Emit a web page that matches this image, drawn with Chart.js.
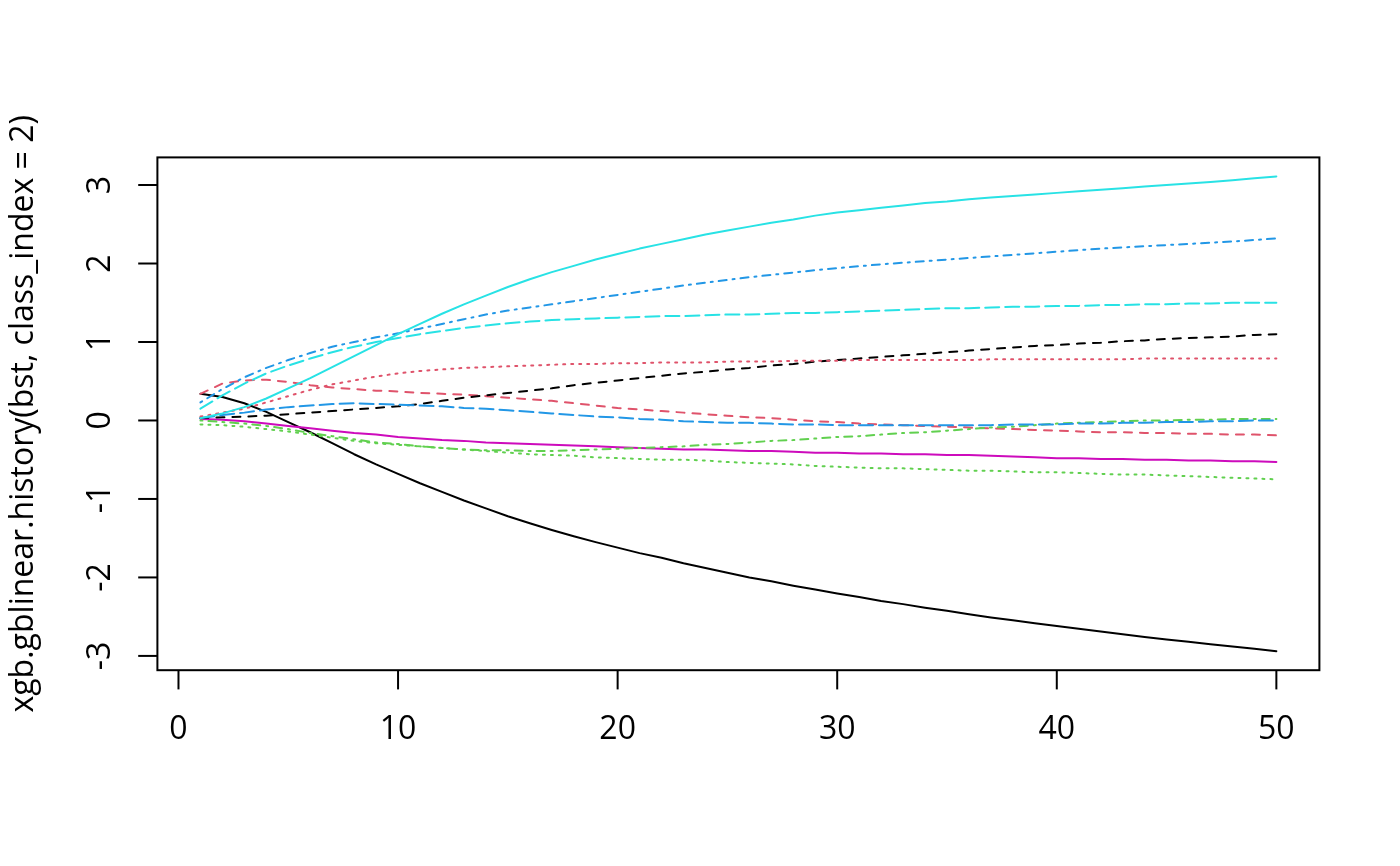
<!DOCTYPE html>
<html>
<head>
<meta charset="utf-8">
<script src="https://cdn.jsdelivr.net/npm/chart.js@4/dist/chart.umd.min.js"></script>
<style>
  html, body { margin: 0; padding: 0; background: #ffffff; }
  #wrap { width: 1400px; height: 866px; }
</style>
</head>
<body>
<div id="wrap"><canvas id="c" width="1400" height="866"></canvas></div>
<script>
// iterations 1..50
const iterations = Array.from({length: 50}, (_, i) => i + 1);

// x tick labels and y tick labels
const xTicks = [0, 10, 20, 30, 40, 50];
const yTicks = [-3, -2, -1, 0, 1, 2, 3];
const yTitle = "xgb.gblinear.history(bst, class_index = 2)";

// series values (matplot columns 1..11)
const s1 = [0.34,0.30,0.22,0.11,-0.02,-0.15,-0.29,-0.43,-0.56,-0.68,
            -0.80,-0.91,-1.02,-1.12,-1.22,-1.31,-1.395,-1.475,-1.55,-1.62,
            -1.69,-1.75,-1.82,-1.88,-1.94,-2.00,-2.05,-2.105,-2.155,-2.205,
            -2.25,-2.30,-2.34,-2.385,-2.425,-2.47,-2.51,-2.545,-2.585,-2.62,
            -2.655,-2.69,-2.725,-2.76,-2.79,-2.82,-2.85,-2.88,-2.91,-2.94];
const s2 = [0.34,0.47,0.51,0.52,0.49,0.45,0.42,0.40,0.38,0.37,
            0.35,0.34,0.33,0.31,0.29,0.27,0.25,0.22,0.19,0.16,
            0.14,0.12,0.10,0.08,0.06,0.04,0.03,0.01,-0.01,-0.02,
            -0.04,-0.05,-0.06,-0.07,-0.08,-0.09,-0.10,-0.11,-0.12,-0.13,
            -0.14,-0.15,-0.15,-0.16,-0.16,-0.17,-0.17,-0.18,-0.18,-0.19];
const s3 = [-0.05,-0.06,-0.08,-0.11,-0.14,-0.18,-0.22,-0.26,-0.29,-0.31,
            -0.33,-0.35,-0.37,-0.39,-0.41,-0.43,-0.44,-0.45,-0.47,-0.48,
            -0.49,-0.50,-0.50,-0.51,-0.53,-0.54,-0.55,-0.56,-0.58,-0.59,
            -0.60,-0.61,-0.61,-0.62,-0.63,-0.64,-0.64,-0.65,-0.66,-0.66,
            -0.67,-0.68,-0.69,-0.69,-0.70,-0.71,-0.72,-0.73,-0.74,-0.75];
const s4 = [0.23,0.40,0.55,0.67,0.77,0.86,0.94,1.00,1.06,1.11,
            1.17,1.23,1.29,1.35,1.40,1.44,1.48,1.52,1.56,1.60,
            1.64,1.68,1.72,1.755,1.79,1.825,1.855,1.885,1.915,1.94,
            1.965,1.99,2.01,2.03,2.05,2.07,2.09,2.11,2.13,2.15,
            2.17,2.19,2.205,2.22,2.235,2.25,2.265,2.28,2.30,2.32];
const s5 = [0.15,0.32,0.47,0.60,0.70,0.79,0.87,0.94,1.00,1.05,
            1.10,1.14,1.18,1.21,1.24,1.26,1.28,1.29,1.30,1.31,
            1.32,1.33,1.33,1.34,1.35,1.35,1.36,1.37,1.37,1.38,
            1.39,1.40,1.41,1.42,1.43,1.43,1.44,1.45,1.45,1.46,
            1.46,1.47,1.47,1.48,1.48,1.49,1.49,1.50,1.50,1.50];
const s6 = [0.02,0.01,-0.01,-0.04,-0.07,-0.10,-0.13,-0.16,-0.18,-0.21,
            -0.23,-0.25,-0.26,-0.28,-0.29,-0.30,-0.31,-0.32,-0.33,-0.34,
            -0.35,-0.36,-0.37,-0.37,-0.38,-0.39,-0.39,-0.40,-0.41,-0.41,
            -0.42,-0.42,-0.43,-0.43,-0.44,-0.44,-0.45,-0.46,-0.47,-0.48,
            -0.48,-0.49,-0.49,-0.50,-0.50,-0.51,-0.51,-0.52,-0.52,-0.53];
const s7 = [0.03,0.04,0.05,0.06,0.08,0.10,0.12,0.14,0.16,0.18,
            0.21,0.25,0.29,0.32,0.35,0.38,0.41,0.45,0.48,0.51,
            0.54,0.57,0.60,0.62,0.65,0.67,0.70,0.72,0.75,0.77,
            0.79,0.81,0.83,0.85,0.87,0.89,0.91,0.93,0.95,0.96,
            0.98,0.99,1.01,1.02,1.04,1.05,1.06,1.07,1.09,1.10];
const s8 = [0.05,0.10,0.15,0.23,0.31,0.39,0.46,0.51,0.56,0.60,
            0.63,0.65,0.67,0.68,0.69,0.70,0.71,0.72,0.72,0.73,
            0.73,0.74,0.74,0.74,0.75,0.75,0.75,0.76,0.76,0.76,
            0.77,0.77,0.77,0.77,0.77,0.77,0.78,0.78,0.78,0.78,
            0.78,0.78,0.78,0.79,0.79,0.79,0.79,0.79,0.79,0.79];
const s9 = [0.00,-0.02,-0.04,-0.07,-0.11,-0.16,-0.20,-0.24,-0.28,-0.30,
            -0.33,-0.35,-0.37,-0.38,-0.38,-0.39,-0.39,-0.38,-0.37,-0.36,
            -0.35,-0.34,-0.33,-0.31,-0.30,-0.28,-0.26,-0.25,-0.23,-0.21,
            -0.20,-0.18,-0.16,-0.15,-0.13,-0.11,-0.09,-0.08,-0.06,-0.04,
            -0.03,-0.02,-0.01,0.00,0.00,0.01,0.01,0.02,0.02,0.02];
const s10 = [0.03,0.07,0.10,0.14,0.17,0.19,0.21,0.22,0.21,0.20,
             0.19,0.18,0.16,0.15,0.13,0.11,0.09,0.07,0.05,0.04,
             0.02,0.01,-0.01,-0.02,-0.03,-0.03,-0.04,-0.05,-0.05,-0.06,
             -0.06,-0.06,-0.06,-0.06,-0.06,-0.06,-0.06,-0.05,-0.05,-0.05,
             -0.04,-0.04,-0.03,-0.03,-0.02,-0.02,-0.01,-0.01,0.00,0.00];
const s11 = [0.03,0.09,0.17,0.28,0.41,0.54,0.68,0.82,0.96,1.10,
             1.23,1.36,1.48,1.59,1.70,1.80,1.89,1.97,2.05,2.12,
             2.19,2.25,2.31,2.37,2.42,2.47,2.52,2.56,2.61,2.65,
             2.68,2.71,2.74,2.77,2.79,2.82,2.84,2.86,2.88,2.90,
             2.92,2.94,2.96,2.98,3.00,3.02,3.04,3.06,3.085,3.11];

const seriesList = [s1, s2, s3, s4, s5, s6, s7, s8, s9, s10, s11];

// R palette and line types (cycled like matplot: col 1:6, lty 1:5)
const palette = ["#000000", "#DF536B", "#61D04F", "#2297E6", "#28E2E5", "#CD0BBC"];
const u = 2; // lwd = 1 at 192 dpi
const ltys = [[], [4*u, 4*u], [1*u, 3*u], [1*u, 3*u, 4*u, 3*u], [7*u, 3*u]];

const datasets = seriesList.map((vals, i) => ({
  label: "V" + (i + 1),
  data: vals.map((v, k) => ({x: iterations[k], y: v})),
  borderColor: palette[i % palette.length],
  backgroundColor: palette[i % palette.length],
  borderWidth: u,
  borderDash: ltys[i % ltys.length],
  borderCapStyle: "round",
  borderJoinStyle: "round",
  pointRadius: 0,
  tension: 0,
  fill: false,
  order: seriesList.length - i
}));

// axis ranges like R (4% extension)
const allVals = seriesList.flat();
const yMinD = Math.min(...allVals), yMaxD = Math.max(...allVals);
const yExt = (yMaxD - yMinD) * 0.04;
const xMinD = iterations[0], xMaxD = iterations[iterations.length - 1];
const xExt = (xMaxD - xMinD) * 0.04;

const FONT = '"Open Sans", "Noto Sans", "DejaVu Sans", sans-serif';

const rAxes = {
  id: "rAxes",
  afterDraw(chart) {
    const ctx = chart.ctx;
    const a = chart.chartArea;
    const xs = chart.scales.x, ys = chart.scales.y;
    const tick = 19.2;
    ctx.save();
    ctx.strokeStyle = "#000000";
    ctx.fillStyle = "#000000";
    ctx.lineWidth = 2;
    ctx.lineCap = "butt";
    ctx.setLineDash([]);
    // box
    ctx.strokeRect(a.left, a.top, a.right - a.left, a.bottom - a.top);
    // x axis ticks + labels
    ctx.font = "32px " + FONT;
    ctx.textAlign = "center";
    ctx.textBaseline = "alphabetic";
    xTicks.forEach(t => {
      const px = xs.getPixelForValue(t);
      ctx.beginPath();
      ctx.moveTo(px, a.bottom);
      ctx.lineTo(px, a.bottom + tick);
      ctx.stroke();
      ctx.fillText(String(t), px, 739);
    });
    // y axis ticks + rotated labels
    yTicks.forEach(t => {
      const py = ys.getPixelForValue(t);
      ctx.beginPath();
      ctx.moveTo(a.left, py);
      ctx.lineTo(a.left - tick, py);
      ctx.stroke();
      ctx.save();
      ctx.translate(110, py);
      ctx.rotate(-Math.PI / 2);
      ctx.textAlign = "center";
      ctx.textBaseline = "alphabetic";
      ctx.fillText(String(t), 0, 0);
      ctx.restore();
    });
    // y title
    ctx.save();
    ctx.translate(33, (a.top + a.bottom) / 2);
    ctx.rotate(-Math.PI / 2);
    ctx.textAlign = "center";
    ctx.textBaseline = "alphabetic";
    ctx.fillText(yTitle, 0, 0);
    ctx.restore();
    ctx.restore();
  }
};

new Chart(document.getElementById("c"), {
  type: "line",
  data: { datasets },
  options: {
    responsive: false,
    devicePixelRatio: 1,
    animation: false,
    layout: { padding: { left: 157.4, right: 80.6, top: 157.4, bottom: 195.8 } },
    plugins: { legend: { display: false }, tooltip: { enabled: false } },
    scales: {
      x: { type: "linear", min: xMinD - xExt, max: xMaxD + xExt, display: false },
      y: { type: "linear", min: yMinD - yExt, max: yMaxD + yExt, display: false }
    }
  },
  plugins: [rAxes]
});
</script>
</body>
</html>
